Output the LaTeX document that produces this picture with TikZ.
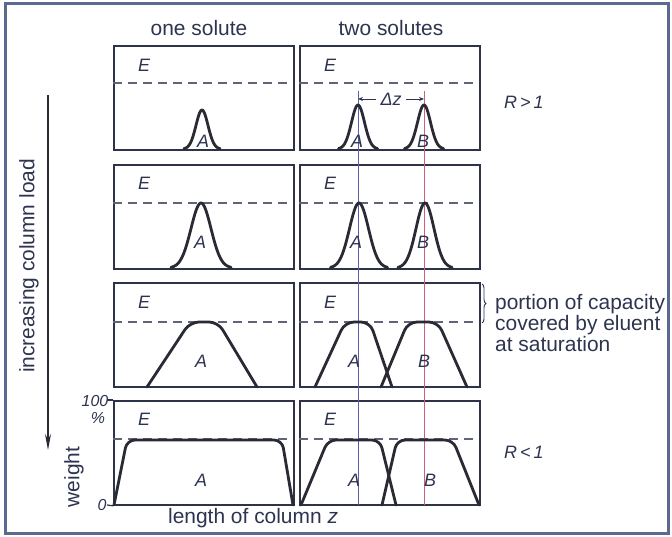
\documentclass[tikz,border=0pt]{standalone}
\usepackage{fontspec}
\setmainfont{Liberation Sans}
\usetikzlibrary{arrows.meta,decorations.pathreplacing}
\definecolor{framec}{HTML}{5A6A90}
\definecolor{panelc}{HTML}{2E3347}
\definecolor{curvec}{HTML}{2A2A35}
\definecolor{dashc}{HTML}{5F6478}
\definecolor{textc}{HTML}{2E3450}
\definecolor{linea}{HTML}{5A5FA8}
\definecolor{lineb}{HTML}{C8607E}
\tikzset{
  panel/.style={draw=panelc, line width=1.8bp, minimum width=180bp, minimum height=104bp, inner sep=0pt, anchor=north west},
  curve/.style={draw=curvec, line width=2.8bp, line join=round, line cap=round},
  eluent/.style={draw=dashc, line width=1.2bp, dash pattern=on 9bp off 6bp},
  big/.style={text=textc, font=\fontsize{21}{21.5}\selectfont, inner sep=0pt},
  lab/.style={text=textc, font=\fontsize{18}{18}\selectfont\itshape, inner sep=0pt},
  vline/.style={line width=0.9bp},
}
\begin{document}
\begin{tikzpicture}[x=1bp,y=-1bp]
\useasboundingbox (0,0) rectangle (672,537);
\fill[white] (0,0) rectangle (672,537);
\draw[framec, line width=3bp] (5,4) rectangle (668,533);

% headings
\node[big] (h1) at (199,28) {one solute};
\node[big] (h2) at (391,28) {two solutes};

% panels
\foreach \r/\t in {1/45,2/164,3/282,4/400}{
  \node[panel] (pa\r) at (113,\t) {};
  \node[panel] (pb\r) at (299,\t) {};
}

% eluent dashed lines
\foreach \d in {83,203,322,439}{
  \draw[eluent] (113,\d) -- (293,\d);
  \draw[eluent] (299,\d) -- (479,\d);
}

% E labels
\foreach \r/\e in {1/65,2/183,3/302,4/419}{
  \node[lab] (ea\r) at (144,\e) {E};
  \node[lab] (eb\r) at (330,\e) {E};
}

% vertical reference lines
\coordinate (ta) at (358,91);
\coordinate (ba) at (358,505);
\coordinate (tb) at (424,91);
\coordinate (bb) at (424,505);
\draw[vline, linea] (ta) -- (ba);
\draw[vline, lineb] (tb) -- (bb);

% row 1 peaks
\draw[curve] plot[domain=184:220, samples=60] (\x,{149-39*exp(-((\x-202)*(\x-202))/72)});
\draw[curve] plot[domain=338.5:377.5, samples=60] (\x,{149-44*exp(-((\x-358)*(\x-358))/84.5)});
\draw[curve] plot[domain=404.5:443.5, samples=60] (\x,{149-44*exp(-((\x-424)*(\x-424))/84.5)});
% row 2 peaks
\draw[curve] plot[domain=171:231, samples=80] (\x,{268-65*exp(-((\x-201)*(\x-201))/200)});
\draw[curve] plot[domain=330.5:387.5, samples=80] (\x,{268-65*exp(-((\x-359)*(\x-359))/180.5)});
\draw[curve] plot[domain=398:452, samples=80] (\x,{268-65*exp(-((\x-425)*(\x-425))/162)});
% row 3 plateaus
\draw[curve, rounded corners=9bp] (147,387) -- (190,322) -- (218,322) -- (257,387);
\draw[curve, rounded corners=9bp] (315,387) -- (345,322) -- (370,322) -- (392,387);
\draw[curve, rounded corners=9bp] (381,387) -- (408,322) -- (438,322) -- (467,387);
% row 4 plateaus
\draw[curve, rounded corners=8bp] (114,505) -- (127,440) -- (282,440) -- (293,505);
\draw[curve, rounded corners=8bp] (301,505) -- (328,440) -- (380,440) -- (396,505);
\draw[curve, rounded corners=8bp] (382,505) -- (397,440) -- (453,440) -- (479,505);

% A / B labels
\node[lab] (a1) at (203,141) {A};
\node[lab] (a1b) at (357,141) {A};
\node[lab] (b1b) at (423,141) {B};
\node[lab] (a2) at (200,242) {A};
\node[lab] (a2b) at (356,242) {A};
\node[lab] (b2b) at (423,242) {B};
\node[lab] (a3) at (201,361) {A};
\node[lab] (a3b) at (354,361) {A};
\node[lab] (b3b) at (424,361) {B};
\node[lab] (a4) at (201,480) {A};
\node[lab] (a4b) at (354,480) {A};
\node[lab] (b4b) at (430,480) {B};

% delta z
\node[lab] (dz) at (391,99) {Δz};
\coordinate (dza) at (358,99);
\coordinate (dzb) at (424,99);
\draw[textc, line width=0.9bp, -{Stealth[length=5bp,width=4bp]}] (376,99) -- (dza);
\draw[textc, line width=0.9bp, -{Stealth[length=5bp,width=4bp]}] (406,99) -- (dzb);

% R labels
\node[lab, anchor=west] (r1) at (504,102) {R\,>\,1};
\node[lab, anchor=west] (r2) at (504,452) {R\,<\,1};

% brace and capacity text
\coordinate (br1) at (482,284);
\coordinate (br2) at (482,323);
\draw[textc, line width=0.9bp, decorate, decoration={brace, amplitude=4bp}] (br1) -- (br2);
\node[big, anchor=west, align=left] (cap) at (495,323) {portion of capacity\\covered by eluent\\at saturation};

% left arrow
\coordinate (la1) at (48,95);
\coordinate (la2) at (48,450);
\draw[curvec, line width=1.2bp, -{Stealth[length=16bp,width=6bp]}] (la1) -- (la2);
\node[big, rotate=90] (load) at (29,266) {increasing column load};

% axis labels
\node[big, rotate=90] (w) at (74,477) {weight};
\node[lab, font=\fontsize{16}{16}\selectfont\itshape] (p100) at (95,401) {100};
\node[lab, font=\fontsize{16}{16}\selectfont\itshape] (pc) at (98,418) {\%};
\node[lab, font=\fontsize{16}{16}\selectfont\itshape] (p0) at (102,505) {0};
\coordinate (t1) at (107,400);
\coordinate (t2) at (107,505);
\draw[panelc, line width=1.2bp] (t1) -- (pa4.north west);
\draw[panelc, line width=1.2bp] (t2) -- (pa4.south west);
\node[big, anchor=west] (len) at (168,518) {length of column \textit{z}};
\end{tikzpicture}
\end{document}
